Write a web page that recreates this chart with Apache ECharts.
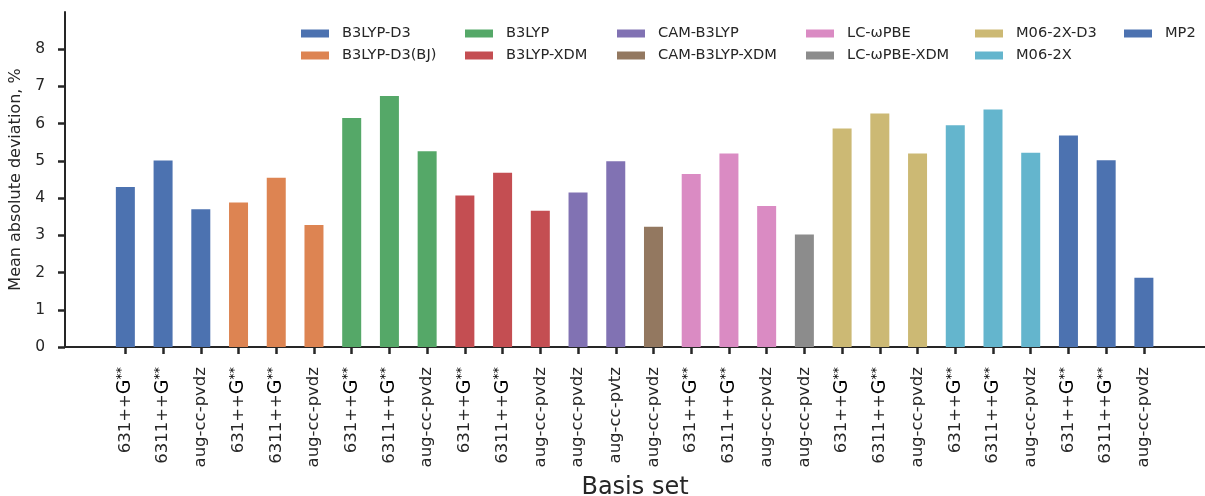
<!DOCTYPE html>
<html>
<head>
<meta charset="utf-8">
<script src="https://cdn.jsdelivr.net/npm/echarts@6/dist/echarts.min.js"></script>
<style>
  html, body { margin: 0; padding: 0; background: #fff; }
  #chart { width: 1205px; height: 496px; }
</style>
</head>
<body>
<div id="chart"></div>
<script>
// Basis set of each bar, left to right
const categories = [
  '631++G**', '6311++G**', 'aug-cc-pvdz',
  '631++G**', '6311++G**', 'aug-cc-pvdz',
  '631++G**', '6311++G**', 'aug-cc-pvdz',
  '631++G**', '6311++G**', 'aug-cc-pvdz',
  'aug-cc-pvdz', 'aug-cc-pvtz',
  'aug-cc-pvdz',
  '631++G**', '6311++G**', 'aug-cc-pvdz',
  'aug-cc-pvdz',
  '631++G**', '6311++G**', 'aug-cc-pvdz',
  '631++G**', '6311++G**', 'aug-cc-pvdz',
  '631++G**', '6311++G**', 'aug-cc-pvdz'
];

// Method of each bar
const barMethods = [
  'B3LYP-D3', 'B3LYP-D3', 'B3LYP-D3',
  'B3LYP-D3(BJ)', 'B3LYP-D3(BJ)', 'B3LYP-D3(BJ)',
  'B3LYP', 'B3LYP', 'B3LYP',
  'B3LYP-XDM', 'B3LYP-XDM', 'B3LYP-XDM',
  'CAM-B3LYP', 'CAM-B3LYP',
  'CAM-B3LYP-XDM',
  'LC-ωPBE', 'LC-ωPBE', 'LC-ωPBE',
  'LC-ωPBE-XDM',
  'M06-2X-D3', 'M06-2X-D3', 'M06-2X-D3',
  'M06-2X', 'M06-2X', 'M06-2X',
  'MP2', 'MP2', 'MP2'
];

// Mean absolute deviation, %
const values = [
  4.30, 5.01, 3.70,
  3.88, 4.55, 3.28,
  6.15, 6.74, 5.26,
  4.07, 4.68, 3.66,
  4.15, 4.99,
  3.23,
  4.65, 5.20, 3.79,
  3.02,
  5.87, 6.27, 5.20,
  5.96, 6.38, 5.22,
  5.68, 5.02, 1.86
];

const methods = [
  'B3LYP-D3', 'B3LYP-D3(BJ)', 'B3LYP', 'B3LYP-XDM', 'CAM-B3LYP', 'CAM-B3LYP-XDM',
  'LC-ωPBE', 'LC-ωPBE-XDM', 'M06-2X-D3', 'M06-2X', 'MP2'
];

const methodColors = [
  '#4C72B0', '#DD8452', '#55A868', '#C44E52', '#8172B3', '#937860',
  '#DA8BC3', '#8C8C8C', '#CCB974', '#64B5CD', '#4C72B0'
];

const yTicks = [0, 1, 2, 3, 4, 5, 6, 7, 8];

const FONT = 'DejaVu Sans';
const INK = '#262626';

const series = methods.map((name, k) => ({
  name: name,
  type: 'bar',
  barWidth: 19,
  barGap: '-100%',
  itemStyle: { color: methodColors[k] },
  data: values
    .map((v, i) => [i, v])
    .filter((d, i) => barMethods[i] === name)
}));

// Legend laid out in columns of two entries each
const legendLefts = [301, 465, 617, 806, 975, 1124];
const legends = [];
for (let c = 0; c * 2 < methods.length; c++) {
  legends.push({
    orient: 'vertical',
    left: legendLefts[c],
    top: 26,
    padding: 0,
    itemWidth: 28,
    itemHeight: 8,
    itemGap: 7,
    icon: 'rect',
    selectedMode: false,
    textStyle: { fontFamily: FONT, fontSize: 14.6, color: INK, lineHeight: 14, padding: [0, 0, 0, 8] },
    data: methods.slice(c * 2, c * 2 + 2)
  });
}

function basisLabel(v) {
  const name = categories[Math.round(v)];
  if (name === undefined) return '';
  const m = name.match(/^(.*)G\*\*$/);
  if (m) return m[1] + '{g|G}{s|**}';
  return name;
}

const chart = echarts.init(document.getElementById('chart'), null, { renderer: 'canvas' });
chart.setOption({
  animation: false,
  backgroundColor: '#ffffff',
  textStyle: { fontFamily: FONT },
  legend: legends,
  grid: { left: 65, right: 0, top: 12, bottom: 149, containLabel: false, outerBoundsMode: 'none' },
  xAxis: {
    type: 'value',
    min: -1.6,
    max: categories.length - 1 + 1.62,
    splitLine: { show: false },
    axisLine: { show: true, onZero: false, lineStyle: { color: INK, width: 2 } },
    axisTick: {
      show: true, length: 7, lineStyle: { color: INK, width: 2.5 },
      customValues: categories.map((c, i) => i)
    },
    axisLabel: {
      customValues: categories.map((c, i) => i),
      rotate: 90,
      margin: 20,
      fontFamily: FONT,
      fontSize: 16.5,
      color: INK,
      formatter: basisLabel,
      rich: {
        g: { fontFamily: FONT, fontSize: 19, color: '#000' },
        s: { fontFamily: FONT, fontSize: 12.5, color: '#000', verticalAlign: 'top', padding: [0, 0, 7, 0] }
      }
    },
    name: 'Basis set',
    nameLocation: 'middle',
    nameGap: 126,
    nameTextStyle: { fontFamily: FONT, fontSize: 24, color: INK }
  },
  yAxis: {
    type: 'value',
    min: 0,
    max: 9,
    splitLine: { show: false },
    axisLine: { show: true, onZero: false, lineStyle: { color: INK, width: 2 } },
    axisTick: { show: true, length: 7, lineStyle: { color: INK, width: 2.5 }, customValues: yTicks },
    axisLabel: { customValues: yTicks, margin: 20, fontFamily: FONT, fontSize: 15.5, color: INK },
    name: 'Mean absolute deviation, %',
    nameLocation: 'middle',
    nameRotate: 90,
    nameGap: 36,
    nameTextStyle: { fontFamily: FONT, fontSize: 16, color: INK }
  },
  series: series
});
</script>
</body>
</html>
